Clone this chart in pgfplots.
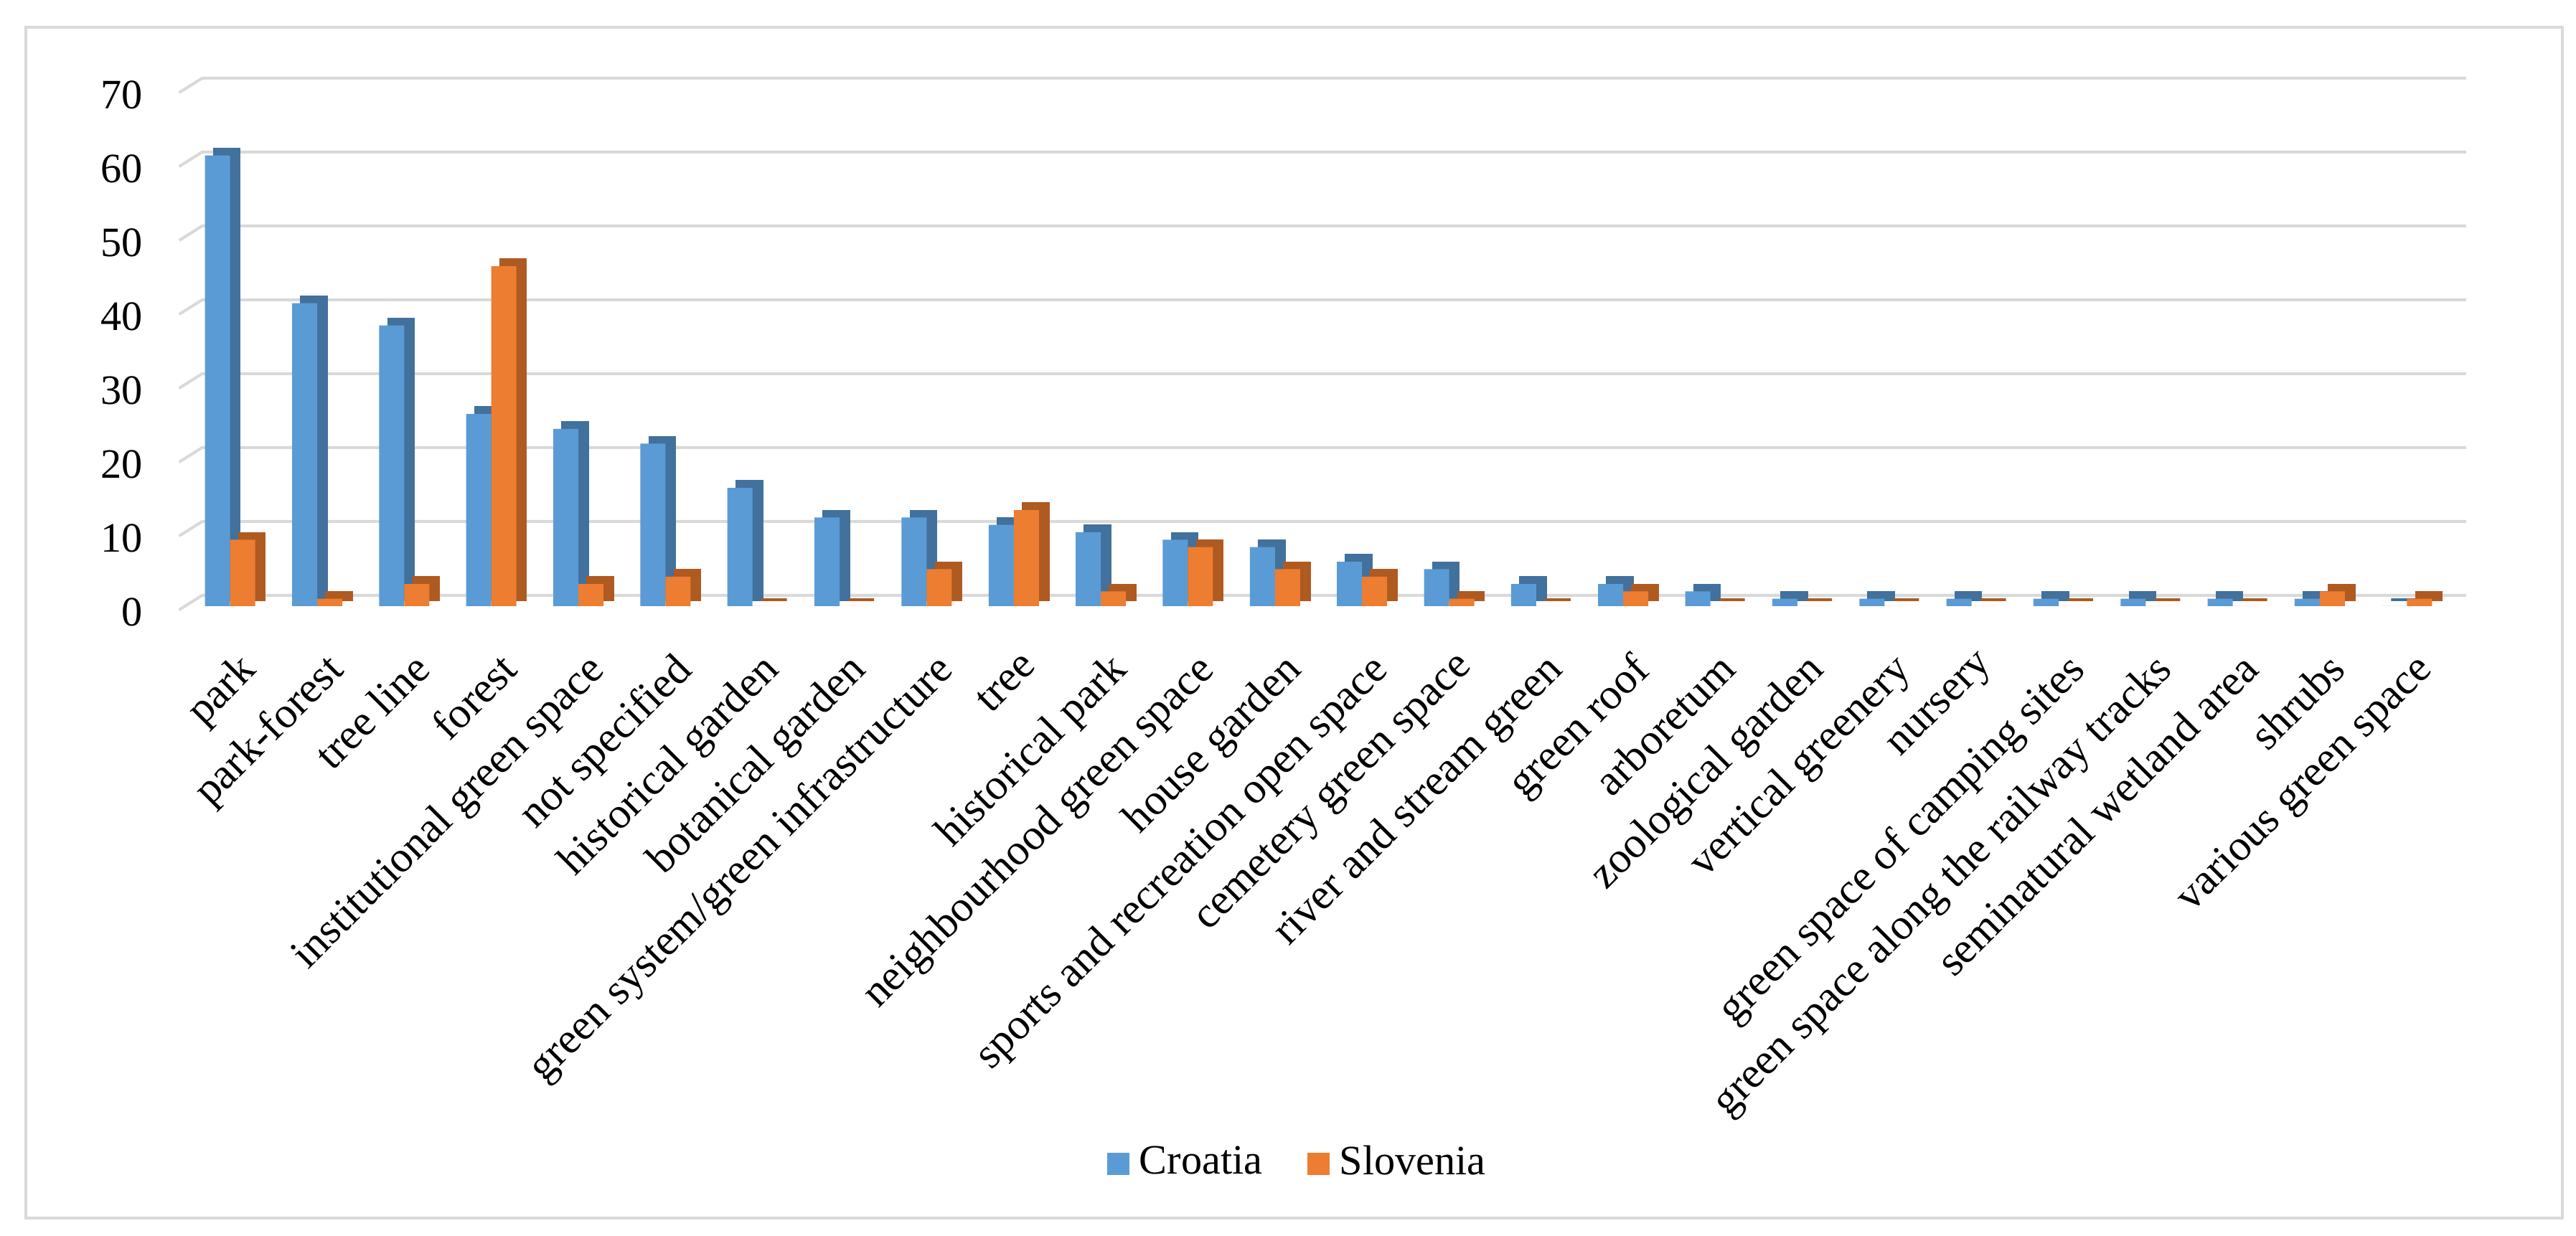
\documentclass[border=0pt]{standalone}
\usepackage{fontspec}
\setmainfont{Liberation Serif}
\usepackage{pgfplots}
\pgfplotsset{compat=1.18}
\usepackage{pgfplotstable}

\definecolor{hrblue}{HTML}{5B9BD5}
\definecolor{hrside}{HTML}{41719C}
\definecolor{slorange}{HTML}{ED7D31}
\definecolor{sloside}{HTML}{AE5A21}
\definecolor{gridc}{HTML}{D9D9D9}

% counts per type of green space: c = Croatia, s = Slovenia
\pgfplotstableread{
idx c  s
0   61 9
1   41 1
2   38 3
3   26 46
4   24 3
5   22 4
6   16 0
7   12 0
8   12 5
9   11 13
10  10 2
11  9  8
12  8  5
13  6  4
14  5  1
15  3  0
16  3  2
17  2  0
18  1  0
19  1  0
20  1  0
21  1  0
22  1  0
23  1  0
24  1  2
25  0  1
}\greendata

\begin{document}
\begin{tikzpicture}
\path[use as bounding box] (0,0) rectangle (179.5mm,86.15mm);
\draw[gridc, line width=0.18mm] (1.8mm,1.25mm) rectangle (178.55mm,84.25mm);
\begin{axis}[
    at={(13mm,43.9mm)}, anchor=south west,
    scale only axis, width=157.75mm, height=36.05mm,
    xmin=-0.5, xmax=25.5, ymin=0, ymax=70,
    clip=false,
    axis line style={draw=none}, major tick length=0pt,
    ytick={0,10,...,70},
    xtick={0,...,25},
    xticklabels={park, park-forest, tree line, forest, institutional green space,
        not specified, historical garden, botanical garden,
        green system/green infrastructure, tree, historical park,
        neighbourhood green space, house garden, sports and recreation open space,
        cemetery green space, river and stream green, green roof, arboretum,
        zoological garden, vertical greenery, nursery, green space of camping sites,
        green space along the railway tracks, seminatural wetland area, shrubs,
        various green space},
    /pgf/number format/assume math mode=true,
    yticklabel style={font=\fontsize{8.3}{10}\selectfont,
        anchor=east, inner sep=0pt, xshift=-3mm, yshift=-0.4mm},
    xticklabel style={font=\fontsize{8.6}{10}\selectfont,
        xshift=0.45mm, yshift=-3mm, rotate=45, anchor=north east, inner sep=0pt},
    legend style={at={(axis description cs:0.4925,-1.078)}, anchor=center,
        draw=none, fill=none, legend columns=2,
        font=\fontsize{8.3}{10}\selectfont,
        /tikz/every even column/.append style={column sep=2.4mm}},
]
\pgfplotsinvokeforeach{0,10,...,70}{
  \draw[gridc, line width=0.2mm] (axis cs:-0.585,#1-0.5) -- (axis cs:-0.32,#1+1.46) -- (axis cs:25.68,#1+1.46);
}
% side/top faces first, front faces on top
\addplot[ybar, bar width=1.75mm, bar shift=-0.225mm, yshift=0.45mm, fill=hrside, draw=hrside, line width=0.5pt, forget plot]
    table[x=idx, y=c] {\greendata};
\addplot[ybar, bar width=1.75mm, bar shift=-0.875mm, fill=hrblue, draw=none,
    legend image code/.code={\fill[hrblue] (0mm,-0.78mm) rectangle (1.55mm,0.78mm);}]
    table[x=idx, y=c] {\greendata};
\addplot[ybar, bar width=1.75mm, bar shift=1.525mm, yshift=0.45mm, fill=sloside, draw=sloside, line width=0.5pt, forget plot]
    table[x=idx, y=s] {\greendata};
\addplot[ybar, bar width=1.75mm, bar shift=0.875mm, fill=slorange, draw=none,
    legend image code/.code={\fill[slorange] (0mm,-0.78mm) rectangle (1.55mm,0.78mm);}]
    table[x=idx, y=s] {\greendata};
\legend{Croatia, Slovenia}
\end{axis}
\end{tikzpicture}
\end{document}
